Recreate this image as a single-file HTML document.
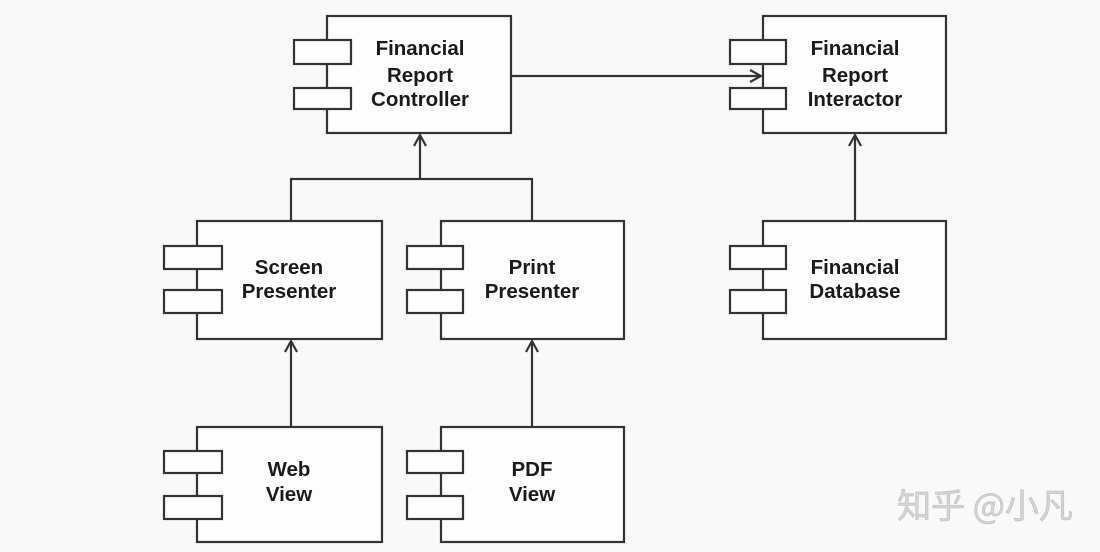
<!DOCTYPE html>
<html><head><meta charset="utf-8"><style>
html,body{margin:0;padding:0;background:#f9f9f9;}
svg{display:block}
text{font-family:"Liberation Sans",Arial,sans-serif;font-weight:bold;font-size:20.5px;fill:#1a1a1a;text-anchor:middle}
</style></head><body>
<svg width="1100" height="552" viewBox="0 0 1100 552" xmlns="http://www.w3.org/2000/svg">
<rect width="1100" height="552" fill="#f9f9f9"/>
<g fill="#fdfdfd" stroke="#333" stroke-width="2.2">
<rect x="327" y="16" width="184" height="117"/>
<rect x="294" y="40" width="57" height="24"/>
<rect x="294" y="88" width="57" height="21"/>
<rect x="763" y="16" width="183" height="117"/>
<rect x="730" y="40" width="56" height="24"/>
<rect x="730" y="88" width="56" height="21"/>
<rect x="197" y="221" width="185" height="118"/>
<rect x="164" y="246" width="58" height="23"/>
<rect x="164" y="290" width="58" height="23"/>
<rect x="441" y="221" width="183" height="118"/>
<rect x="407" y="246" width="56" height="23"/>
<rect x="407" y="290" width="56" height="23"/>
<rect x="763" y="221" width="183" height="118"/>
<rect x="730" y="246" width="56" height="23"/>
<rect x="730" y="290" width="56" height="23"/>
<rect x="197" y="427" width="185" height="115"/>
<rect x="164" y="451" width="58" height="22"/>
<rect x="164" y="496" width="58" height="23"/>
<rect x="441" y="427" width="183" height="115"/>
<rect x="407" y="451" width="56" height="22"/>
<rect x="407" y="496" width="56" height="23"/>
</g>
<g fill="none" stroke="#333" stroke-width="2.2">
<path d="M511 76 H761"/><path d="M750 70 L761 76 L750 82"/>
<path d="M420 179 V135"/><path d="M414 146 L420 135 L426 146"/>
<path d="M291 221 V179 H532 V221"/>
<path d="M855 221 V135"/><path d="M849 146 L855 135 L861 146"/>
<path d="M291 427 V341"/><path d="M285 352 L291 341 L297 352"/>
<path d="M532 427 V341"/><path d="M526 352 L532 341 L538 352"/>
</g>
<text x="420" y="55">Financial</text>
<text x="420" y="82">Report</text>
<text x="420" y="106">Controller</text>
<text x="855" y="55">Financial</text>
<text x="855" y="82">Report</text>
<text x="855" y="106">Interactor</text>
<text x="289" y="274">Screen</text>
<text x="289" y="298">Presenter</text>
<text x="532" y="274">Print</text>
<text x="532" y="298">Presenter</text>
<text x="855" y="274">Financial</text>
<text x="855" y="298">Database</text>
<text x="289" y="476">Web</text>
<text x="289" y="501">View</text>
<text x="532" y="476">PDF</text>
<text x="532" y="501">View</text>
<text x="985" y="518" style="font-family:'Noto Sans CJK SC','WenQuanYi Zen Hei',sans-serif;font-weight:normal;font-size:34px;fill:#d4d4d4;stroke:#bdbdbd;stroke-width:0.6">知乎 @小凡</text>
</svg>
</body></html>
